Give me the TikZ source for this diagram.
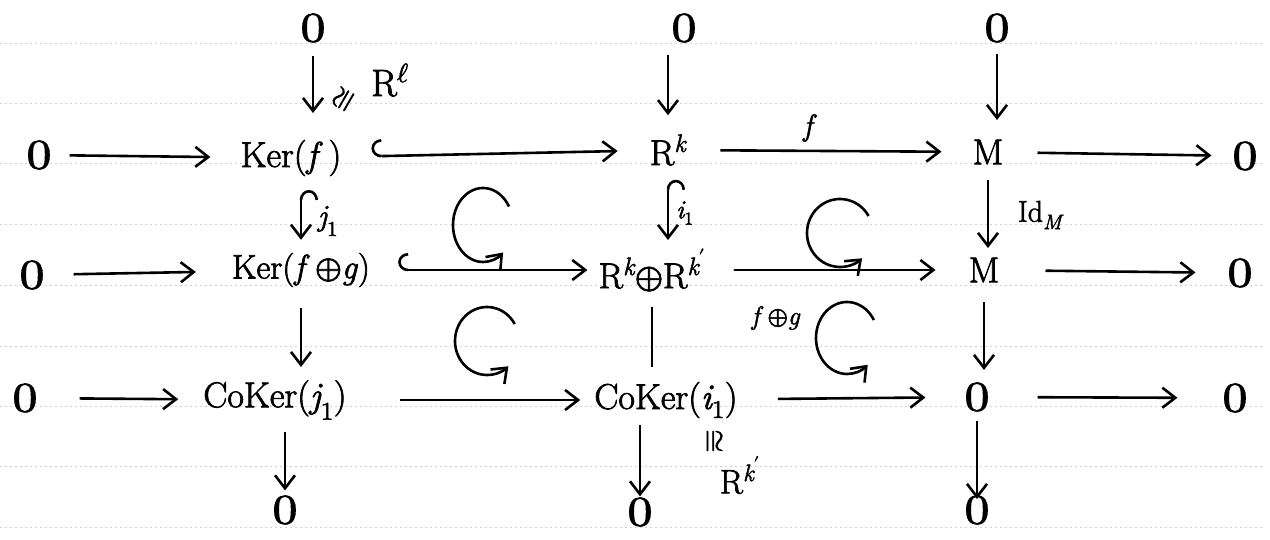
\documentclass[tikz,border=0pt]{standalone}
\usepackage{graphicx}
\usepackage{amsmath}
\usepackage{unicode-math}
\setmathfont{Latin Modern Math}[FakeBold=2]
\setmainfont{Latin Modern Roman}[FakeBold=2]
\usetikzlibrary{arrows.meta}
\newcommand{\zr}{\scalebox{1.3}[1.1]{$0$}}
\tikzset{
  obj/.style={inner sep=0pt, font=\fontsize{36}{40}\selectfont},
  zero/.style={inner sep=0pt, font=\fontsize{38}{42}\selectfont},
  lab/.style={inner sep=0pt, font=\fontsize{30}{34}\selectfont},
  slab/.style={inner sep=0pt, font=\fontsize{26}{30}\selectfont},
  tipend/.tip={Straight Barb[length=13pt,width=20pt,line width=2.6pt]},
  arr/.style={line width=2.6pt, -tipend},
  harr/.style={line width=2.6pt, {Hooks[right,length=10pt,width=34pt,line width=2.6pt]}-tipend},
  plainline/.style={line width=2.6pt},
  rule/.style={gray!35, line width=0.7pt, dash pattern=on 2pt off 3pt},
  comm/.style={line width=2.6pt, -tipend}
}
\begin{document}
\begin{tikzpicture}[x=1pt,y=1pt]
\useasboundingbox (0,0) rectangle (1270,-540);
\fill[white] (0,0) rectangle (1270,-540);
% ruled paper lines
\foreach \yy in {43,103,163,224,285,346,406,466,527}
  \draw[rule] (0,-\yy) -- (1262,-\yy);

% row 0
\node[zero] (t1) at (313,-28) {\zr};
\node[zero] (t2) at (684,-28) {\zr};
\node[zero] (t3) at (997,-28) {\zr};
% row 1
\node[zero] (a0) at (39,-155) {\zr};
\node[obj] (a1) at (291,-158) {Ker(\textit{f}\,)};
\node[obj] (a2) at (668,-150) {$\mathrm{R}^{\textit{k}}$};
\node[obj] (a3) at (988,-152) {M};
\node[zero] (a4) at (1245,-156) {\zr};
% row 2
\node[zero] (b0) at (32,-275) {\zr};
\node[obj,font=\fontsize{34}{38}\selectfont] (b1) at (301,-270) {Ker(\textit{f}\,$\oplus$\textit{g})};
\node[obj] (b2) at (652,-270) {$\mathrm{R}^{\textit{k}}{\oplus}\mathrm{R}^{\textit{k}'}$};
\node[obj] (b3) at (984,-270) {M};
\node[zero] (b4) at (1240,-273) {\zr};
% row 3
\node[zero] (c0) at (25,-398) {\zr};
\node[obj] (c1) at (275,-400) {CoKer($\textit{j}_1$)};
\node[obj] (c2) at (666,-400) {CoKer($\textit{i}_1$)};
\node[zero] (c3) at (977,-397) {\zr};
\node[zero] (c4) at (1235,-398) {\zr};
% row 4
\node[zero] (d1) at (285,-510) {\zr};
\node[zero] (d2) at (640,-512) {\zr};
\node[zero] (d3) at (977,-510) {\zr};

% horizontal arrows row 1
\draw[arr, shorten <=18pt, shorten >=30pt] (a0) -- (a1);
\draw[harr, shorten <=30pt, shorten >=32pt] (a1) -- (a2);
\draw[arr, shorten <=34pt, shorten >=31pt] (a2) -- (a3);
\draw[arr, shorten <=34pt, shorten >=21pt] (a3) -- (a4);
% row 2
\draw[arr, shorten <=29pt, shorten >=36pt] (b0) -- (b1);
\draw[harr, shorten <=28pt, shorten >=11pt] (b1) -- (b2);
\draw[arr, line cap=round, shorten <=29pt, shorten >=33pt] (b2) -- (b3);
\draw[arr, shorten <=46pt, shorten >=32pt] (b3) -- (b4);
% row 3
\draw[arr, shorten <=42pt, shorten >=25pt] (c0) -- (c1);
\draw[arr, shorten <=53pt, shorten >=14pt] (c1) -- (c2);
\draw[arr, shorten <=40pt, shorten >=39pt] (c2) -- (c3);
\draw[arr, shorten <=48pt, shorten >=45pt] (c3) -- (c4);

% label of the f arrow
\node[lab] (lf) at (810,-128) {\textit{f}};

% vertical arrows column 1
\draw[arr, shorten <=13pt, shorten >=45pt] (t1) -- (t1 |- a1);
\draw[harr, shorten <=32pt, shorten >=13pt] (b1 |- a1) -- (b1);
\draw[arr, shorten <=21pt, shorten >=33pt] (b1) -- (b1 |- c1);
\draw[arr, shorten <=32pt, shorten >=5pt] (d1 |- c1) -- (d1);
% column 2
\draw[arr, shorten <=27pt, shorten >=19pt] (a2 |- t2) -- (a2);
\draw[harr, shorten <=14pt, shorten >=30pt] (a2) -- (a2 |- b2);
\draw[plainline, shorten <=15pt, shorten >=33pt] (b2) -- (b2 |- c2);
\draw[arr, shorten <=25pt, shorten >=1pt] (d2 |- c2) -- (d2);
% column 3
\draw[arr, shorten <=11pt, shorten >=32pt] (t3) -- (t3 |- a3);
\draw[arr, shorten <=16pt, shorten >=22pt] (a3) -- (a3 |- b3);
\draw[arr, shorten <=20pt, shorten >=27pt] (b3) -- (b3 |- c3);
\draw[arr, shorten <=9pt, shorten >=11pt] (c3) -- (c3 |- d3);

% labels
\node[lab, rotate=60] (iso1) at (343,-99) {$\cong$};
\node[lab, font=\fontsize{38}{42}\selectfont] (rl) at (390,-80) {$\mathrm{R}^{\ell}$};
\node[lab] (lj) at (328,-221) {$\textit{j}_1$};
\node[slab] (li) at (685,-213) {$\textit{i}_1$};
\node[lab] (lid) at (1040,-215) {Id$_{\textit{M}}$};
\node[slab] (lfg) at (776,-318) {\textit{f}\,$\oplus$\textit{g}};
\node[lab, rotate=-90] (iso2) at (714,-441) {$\cong$};
\node[lab, font=\fontsize{34}{38}\selectfont] (rk) at (740,-475) {$\mathrm{R}^{\textit{k}'}$};

% commutativity symbols
\draw[comm] (483,-225) ++(30:30 and 37) arc[start angle=30, end angle=312, x radius=30, y radius=37];
\draw[comm] (840,-233) ++(30:33 and 34) arc[start angle=30, end angle=312, x radius=33, y radius=34];
\draw[comm] (487,-341) ++(30:32 and 34) arc[start angle=30, end angle=312, x radius=32, y radius=34];
\draw[comm] (847,-338) ++(30:31 and 36) arc[start angle=30, end angle=312, x radius=31, y radius=36];
\end{tikzpicture}
\end{document}
